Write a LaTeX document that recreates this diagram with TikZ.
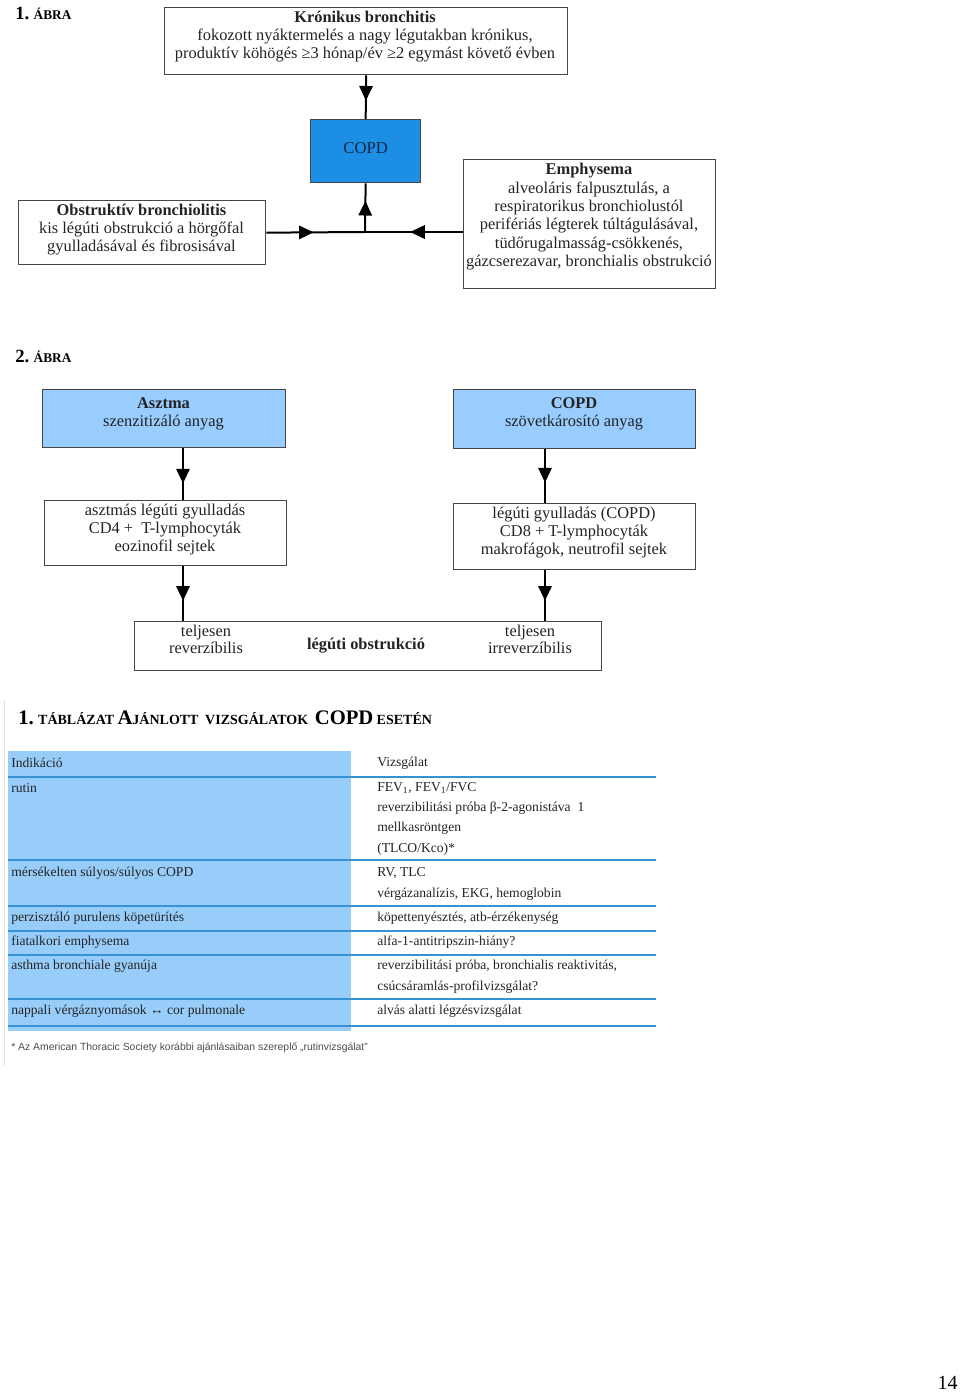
\documentclass[tikz,border=0pt]{standalone}
\usepackage{fontspec}
\setmainfont{Liberation Serif}
\setsansfont{Liberation Sans}
\usetikzlibrary{arrows.meta,decorations.markings}
\newdimen\pxu \pxu=0.75pt
\definecolor{copdblue}{RGB}{28,143,228}
\definecolor{copdtext}{RGB}{20,35,70}
\definecolor{lightblue}{RGB}{153,204,255}
\definecolor{tabblue}{RGB}{152,205,250}
\definecolor{rulecol}{RGB}{55,145,210}
\definecolor{boxline}{RGB}{70,70,70}
\definecolor{txtcol}{RGB}{35,35,35}
\newcommand{\fsc}[1]{{\fontsize{10}{10}\selectfont #1}}
\newcommand{\tsc}[1]{{\fontsize{10.5}{10.5}\selectfont #1}}
\tikzset{
  box/.style={draw=boxline, line width=1pt, rectangle, inner sep=0pt, anchor=north west},
  dtxt/.style={align=center, font=\fontsize{12.3}{13.8}\selectfont, inner sep=0pt, anchor=north, text=txtcol},
  conn/.style={line width=1.5pt, draw=black},
  midarr/.style={postaction={decorate}, decoration={markings, mark=at position #1 with {\arrow{Triangle[length=11pt,width=10pt]}}}},
  ttxt/.style={font=\fontsize{10.2}{11}\selectfont, anchor=west, inner sep=0pt, text=txtcol},
  trule/.style={draw=rulecol, line width=1.3pt},
  trulethick/.style={draw=rulecol, line width=2.2pt},
  heading/.style={anchor=base west, inner sep=0pt, font=\bfseries},
}
\begin{document}
\begin{tikzpicture}[x=0.75pt, y=-0.75pt]
\useasboundingbox (0,0) rectangle (960,1392);

% ---------- 1. ABRA ----------
\node[heading] (h1) at (15,19) {{\fontsize{14}{14}\selectfont 1.} \fsc{ÁBRA}};

\node[box, minimum width=403\pxu, minimum height=67\pxu] (kron) at (164,7) {};
\node[dtxt] (kront) at (365,10.5) {\textbf{Krónikus bronchitis}\\fokozott nyáktermelés a nagy légutakban krónikus,\\produktív köhögés ≥3 hónap/év ≥2 egymást követő évben};

\node[box, fill=copdblue, minimum width=110\pxu, minimum height=63\pxu, font=\fontsize{12.5}{13.8}\selectfont, text=copdtext] (copd) at (310,119) {COPD\rule[-5pt]{0pt}{0pt}};

\node[box, minimum width=247\pxu, minimum height=64\pxu] (obst) at (18,200) {};
\node[dtxt] (obstt) at (141.5,203.5) {\textbf{Obstruktív bronchiolitis}\\kis légúti obstrukció a hörgőfal\\gyulladásával és fibrosisával};

\node[box, minimum width=252\pxu, minimum height=129\pxu] (emph) at (463,159) {};
\node[dtxt] (emphtxt) at (589,163) {\textbf{Emphysema}\\alveoláris falpusztulás, a\\respiratorikus bronchiolustól\\perifériás légterek túltágulásával,\\tüdőrugalmasság-csökkenés,\\gázcserezavar, bronchialis obstrukció};

\coordinate (J) at (365,232);
\draw[conn, midarr=0.58] (kron.south) -- (copd.north);
\draw[conn, midarr=0.48] (obst.east) -- (J);
\draw[conn, midarr=0.54] (emph.west |- J) -- (J);
\draw[conn, midarr=0.64] (J) -- (copd.south);

% ---------- 2. ABRA ----------
\node[heading] (h2) at (15,362) {{\fontsize{14}{14}\selectfont 2.} \fsc{ÁBRA}};

\node[box, fill=lightblue, minimum width=243\pxu, minimum height=58\pxu] (asz) at (42,389) {};
\node[dtxt] (aszt) at (163.5,397) {\textbf{Asztma}\\szenzitizáló anyag};

\node[box, fill=lightblue, minimum width=242\pxu, minimum height=59\pxu] (copdb) at (453,389) {};
\node[dtxt] (copdbt) at (574,397) {\textbf{COPD}\\szövetkárosító anyag};

\node[box, minimum width=242\pxu, minimum height=65\pxu] (asg) at (44,500) {};
\node[dtxt] (asgt) at (165,503.5) {asztmás légúti gyulladás\\CD4 +\ \ T-lymphocyták\\eozinofil sejtek};

\node[box, minimum width=242\pxu, minimum height=66\pxu] (lgy) at (453,503) {};
\node[dtxt] (lgyt) at (574,506.5) {légúti gyulladás (COPD)\\CD8 + T-lymphocyták\\makrofágok, neutrofil sejtek};

\node[box, minimum width=467\pxu, minimum height=49\pxu] (lob) at (134,621) {};
\node[dtxt, font=\fontsize{12.3}{13}\selectfont] (lobl) at (206,624.5) {teljesen\\reverzíbilis};
\node[dtxt, font=\fontsize{12.3}{13}\selectfont\bfseries, anchor=center] (lobm) at (366,646) {légúti obstrukció};
\node[dtxt, font=\fontsize{12.3}{13}\selectfont] (lobr) at (530,624.5) {teljesen\\irreverzíbilis};

\coordinate (xl) at (183,0);
\coordinate (xr) at (545,0);
\draw[conn, midarr=0.68] (asz.south -| xl) -- (asg.north -| xl);
\draw[conn, midarr=0.62] (copdb.south -| xr) -- (lgy.north -| xr);
\draw[conn, midarr=0.63] (asg.south -| xl) -- (lob.north -| xl);
\draw[conn, midarr=0.60] (lgy.south -| xr) -- (lob.north -| xr);

% ---------- 1. TABLAZAT ----------
\draw[gray!25, line width=0.6pt] (4,700) -- (4,1066);
\node[heading] (h3) at (18,724) {{\fontsize{15.5}{15.5}\selectfont 1.} \tsc{TÁBLÁZAT} {\fontsize{15.5}{15.5}\selectfont A}\tsc{JÁNLOTT}\ \ \tsc{VIZSGÁLATOK}\ \ {\fontsize{15.5}{15.5}\selectfont COPD} \tsc{ESETÉN}};

\fill[tabblue] (8,751) rectangle (351,1031);
\draw[trulethick] (8,777) -- (656,777);
\draw[trule] (8,860) -- (656,860);
\draw[trule] (8,906) -- (656,906);
\draw[trule] (8,931) -- (656,931);
\draw[trule] (8,955) -- (656,955);
\draw[trule] (8,999) -- (656,999);
\draw[trulethick] (8,1026) -- (656,1026);

\node[ttxt] (th1) at (11,763) {Indikáció};
\node[ttxt] (th2) at (377,763) {Vizsgálat};

\node[ttxt] (l1) at (11,788) {rutin};
\node[ttxt] (r1a) at (377,788) {FEV\textsubscript{1}, FEV\textsubscript{1}/FVC};
\node[ttxt] (r1b) at (377,808) {reverzibilitási próba β-2-agonistáva\ \ 1};
\node[ttxt] (r1c) at (377,828) {mellkasröntgen};
\node[ttxt] (r1d) at (377,849) {(TLCO/Kco)*};

\node[ttxt] (l2) at (11,873) {mérsékelten súlyos/súlyos COPD};
\node[ttxt] (r2a) at (377,873) {RV, TLC};
\node[ttxt] (r2b) at (377,894) {vérgázanalízis, EKG, hemoglobin};

\node[ttxt] (l3) at (11,918) {perzisztáló purulens köpetürítés};
\node[ttxt] (r3) at (377,918) {köpettenyésztés, atb-érzékenység};

\node[ttxt] (l4) at (11,942) {fiatalkori emphysema};
\node[ttxt] (r4) at (377,942) {alfa-1-antitripszin-hiány?};

\node[ttxt] (l5) at (11,966) {asthma bronchiale gyanúja};
\node[ttxt] (r5a) at (377,966) {reverzibilitási próba, bronchialis reaktivitás,};
\node[ttxt] (r5b) at (377,987) {csúcsáramlás-profilvizsgálat?};

\node[ttxt] (l6) at (11,1011) {nappali vérgáznyomások ↔ cor pulmonale};
\node[ttxt] (r6) at (377,1011) {alvás alatti légzésvizsgálat};

\node[anchor=west, inner sep=0pt, font=\sffamily\fontsize{7.8}{8.5}\selectfont, text=black!70] (foot) at (11,1048) {* Az American Thoracic Society korábbi ajánlásaiban szereplő „rutinvizsgálat”};

\node[anchor=east, inner sep=0pt, font=\fontsize{15}{15}\selectfont] (page) at (958,1383) {14};
\end{tikzpicture}
\end{document}
